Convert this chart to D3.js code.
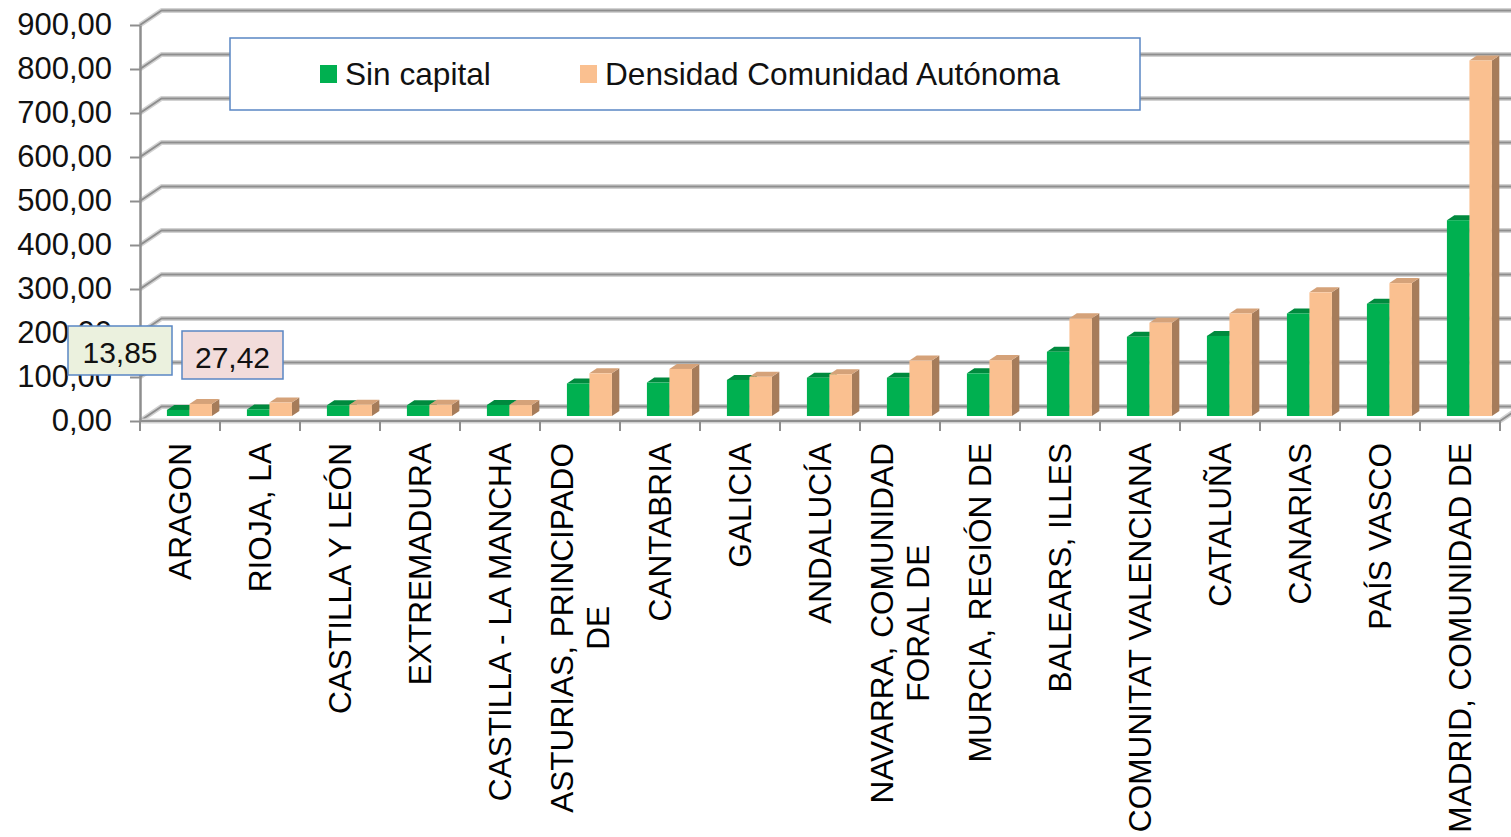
<!DOCTYPE html>
<html>
<head>
<meta charset="utf-8">
<script src="https://cdn.jsdelivr.net/npm/d3@7"></script>
<style>
  body { margin: 0; background: #fff; }
  svg { display: block; font-family: "Liberation Sans", Arial, sans-serif; }
</style>
</head>
<body>
<svg id="chart" width="1511" height="837"></svg>
<script>
// data
var categories = ["ARAGON", "RIOJA, LA", "CASTILLA Y LEÓN", "EXTREMADURA", "CASTILLA - LA MANCHA",
  "ASTURIAS, PRINCIPADO\nDE", "CANTABRIA", "GALICIA", "ANDALUCÍA", "NAVARRA, COMUNIDAD\nFORAL DE",
  "MURCIA, REGIÓN DE", "BALEARS, ILLES", "COMUNITAT VALENCIANA", "CATALUÑA", "CANARIAS",
  "PAÍS VASCO", "MADRID, COMUNIDAD DE"];
var seriesNames = ["Sin capital", "Densidad Comunidad Autónoma"];
var sinCapital = [13.85, 15, 24.3, 24.5, 25.1, 74, 76, 82, 87, 87, 97, 146, 180, 182, 233, 255, 445];
var densidad = [27.42, 30.5, 25.8, 25.5, 24.9, 97, 107, 89, 95, 126, 127, 222, 212, 233, 281, 302, 808];
var yTicks = [0, 100, 200, 300, 400, 500, 600, 700, 800, 900];

var svg = d3.select("#chart");
var fmt = function (v) { return d3.format(".2f")(v).replace(".", ","); };

// front plane scales + oblique depth offset of the 3d box
var x = d3.scaleBand().domain(categories).range([140, 1500]);
var y = d3.scaleLinear().domain([0, 900]).range([421, 25]);
var inner = d3.scaleBand().domain(seriesNames).range([19.5, 64.5]);
var DX = 21.5, DY = -14.5;
var F0 = 0.345, F1 = 0.69; // bar front / back depth
var faces = {
  "Sin capital": { front: "#00b050", top: "#008a3e", side: "#00783a" },
  "Densidad Comunidad Autónoma": { front: "#fac090", top: "#d5a279", side: "#a67c5a" }
};

function gridLine(sel, pts) {
  var line = d3.line();
  sel.append("path").attr("d", line(pts)).attr("fill", "none")
    .attr("stroke", "#d2d2d2").attr("stroke-width", 5).attr("stroke-linejoin", "round");
  sel.append("path").attr("d", line(pts)).attr("fill", "none")
    .attr("stroke", "#8e8e8e").attr("stroke-width", 2).attr("stroke-linejoin", "round");
}

// floor
var x0 = x.range()[0], x1 = x.range()[1];
svg.append("path")
  .attr("d", d3.line()([[x0, y(0)], [x1, y(0)], [x1 + DX, y(0) + DY], [x0 + DX, y(0) + DY]]) + "Z")
  .attr("fill", "#fff");

// gridlines: side wall diagonal + back wall
var grid = svg.append("g");
yTicks.forEach(function (t) {
  gridLine(grid, [[x0, y(t)], [x0 + DX, y(t) + DY], [x1 + DX + 20, y(t) + DY]]);
});
// floor front + right edge
gridLine(grid, [[x0, y(0)], [x1, y(0)], [x1 + DX, y(0) + DY]]);

// y axis
var yAxis = svg.append("g")
  .attr("transform", "translate(" + x0 + ",0)")
  .call(d3.axisLeft(y).tickValues(yTicks).tickSize(10).tickSizeOuter(0).tickPadding(18).tickFormat(fmt));
yAxis.select(".domain").attr("stroke", "#8e8e8e").attr("stroke-width", 2.5);
yAxis.selectAll(".tick line").attr("stroke", "#8e8e8e").attr("stroke-width", 2);
yAxis.selectAll(".tick text").attr("font-size", 31).attr("fill", "#111")
  .attr("font-family", "'Liberation Sans', Arial, sans-serif");

// category tick marks under the floor
var bounds = categories.map(function (c) { return x(c); }).concat([x1]);
svg.append("g").selectAll("line").data(bounds).join("line")
  .attr("x1", function (d) { return d; }).attr("x2", function (d) { return d; })
  .attr("y1", y(0)).attr("y2", y(0) + 10)
  .attr("stroke", "#8e8e8e").attr("stroke-width", 2);

// bars
var ddx = DX * (F1 - F0), ddy = DY * (F1 - F0);
var bars = svg.append("g");
categories.forEach(function (c, i) {
  [[seriesNames[0], sinCapital[i]], [seriesNames[1], densidad[i]]].forEach(function (sv) {
    var s = sv[0], v = sv[1], col = faces[s];
    var bx0 = x(c) + inner(s) + DX * F0, bx1 = bx0 + inner.bandwidth();
    var yb = y(0) + DY * F0, yt = y(v) + DY * F0;
    var g = bars.append("g");
    g.append("path").attr("fill", col.side)
      .attr("d", d3.line()([[bx1, yt], [bx1 + ddx, yt + ddy], [bx1 + ddx, yb + ddy], [bx1, yb]]) + "Z");
    g.append("path").attr("fill", col.top)
      .attr("d", d3.line()([[bx0, yt], [bx1, yt], [bx1 + ddx, yt + ddy], [bx0 + ddx, yt + ddy]]) + "Z");
    g.append("rect").attr("fill", col.front)
      .attr("x", bx0).attr("y", yt).attr("width", bx1 - bx0).attr("height", yb - yt);
  });
});

// category labels, rotated, top aligned under the axis
var labels = svg.append("g").attr("font-size", 31.6).attr("fill", "#000");
categories.forEach(function (c) {
  var lines = c.split("\n");
  var g = labels.append("g")
    .attr("transform", "translate(" + (x(c) + x.bandwidth() / 2) + ",443) rotate(-90)");
  var texts = lines.map(function (l, j) {
    return g.append("text").attr("text-anchor", "middle")
      .attr("dy", "0.35em").attr("y", (j - (lines.length - 1) / 2) * 36).text(l);
  });
  var maxLen = d3.max(texts, function (t) { return t.node().getComputedTextLength(); });
  texts.forEach(function (t) { t.attr("x", -maxLen / 2); });
});

// legend
var legend = svg.append("g");
legend.append("rect").attr("x", 230).attr("y", 38).attr("width", 910).attr("height", 72)
  .attr("fill", "#fff").attr("stroke", "#5a86c4").attr("stroke-width", 1.5);
var legX = [320, 580];
seriesNames.forEach(function (s, i) {
  legend.append("rect").attr("x", legX[i]).attr("y", 65).attr("width", 17).attr("height", 18)
    .attr("fill", faces[s].front);
  legend.append("text").attr("x", legX[i] + 25).attr("y", 85).attr("font-size", 31.6)
    .attr("fill", "#111").text(s);
});

// data label boxes for the first category
var boxes = [
  { v: sinCapital[0], x: 68, y: 326, w: 104, h: 49, fill: "#ebf1de" },
  { v: densidad[0], x: 182, y: 331, w: 101, h: 48, fill: "#f2dcdb" }
];
var bx = svg.append("g").selectAll("g").data(boxes).join("g");
bx.append("rect").attr("x", function (d) { return d.x; }).attr("y", function (d) { return d.y; })
  .attr("width", function (d) { return d.w; }).attr("height", function (d) { return d.h; })
  .attr("fill", function (d) { return d.fill; }).attr("stroke", "#5a86c4").attr("stroke-width", 1.5);
bx.append("text").attr("x", function (d) { return d.x + d.w / 2; })
  .attr("y", function (d) { return d.y + d.h / 2; }).attr("dy", "0.42em")
  .attr("text-anchor", "middle").attr("font-size", 30).attr("fill", "#111")
  .text(function (d) { return fmt(d.v); });
</script>
</body>
</html>
